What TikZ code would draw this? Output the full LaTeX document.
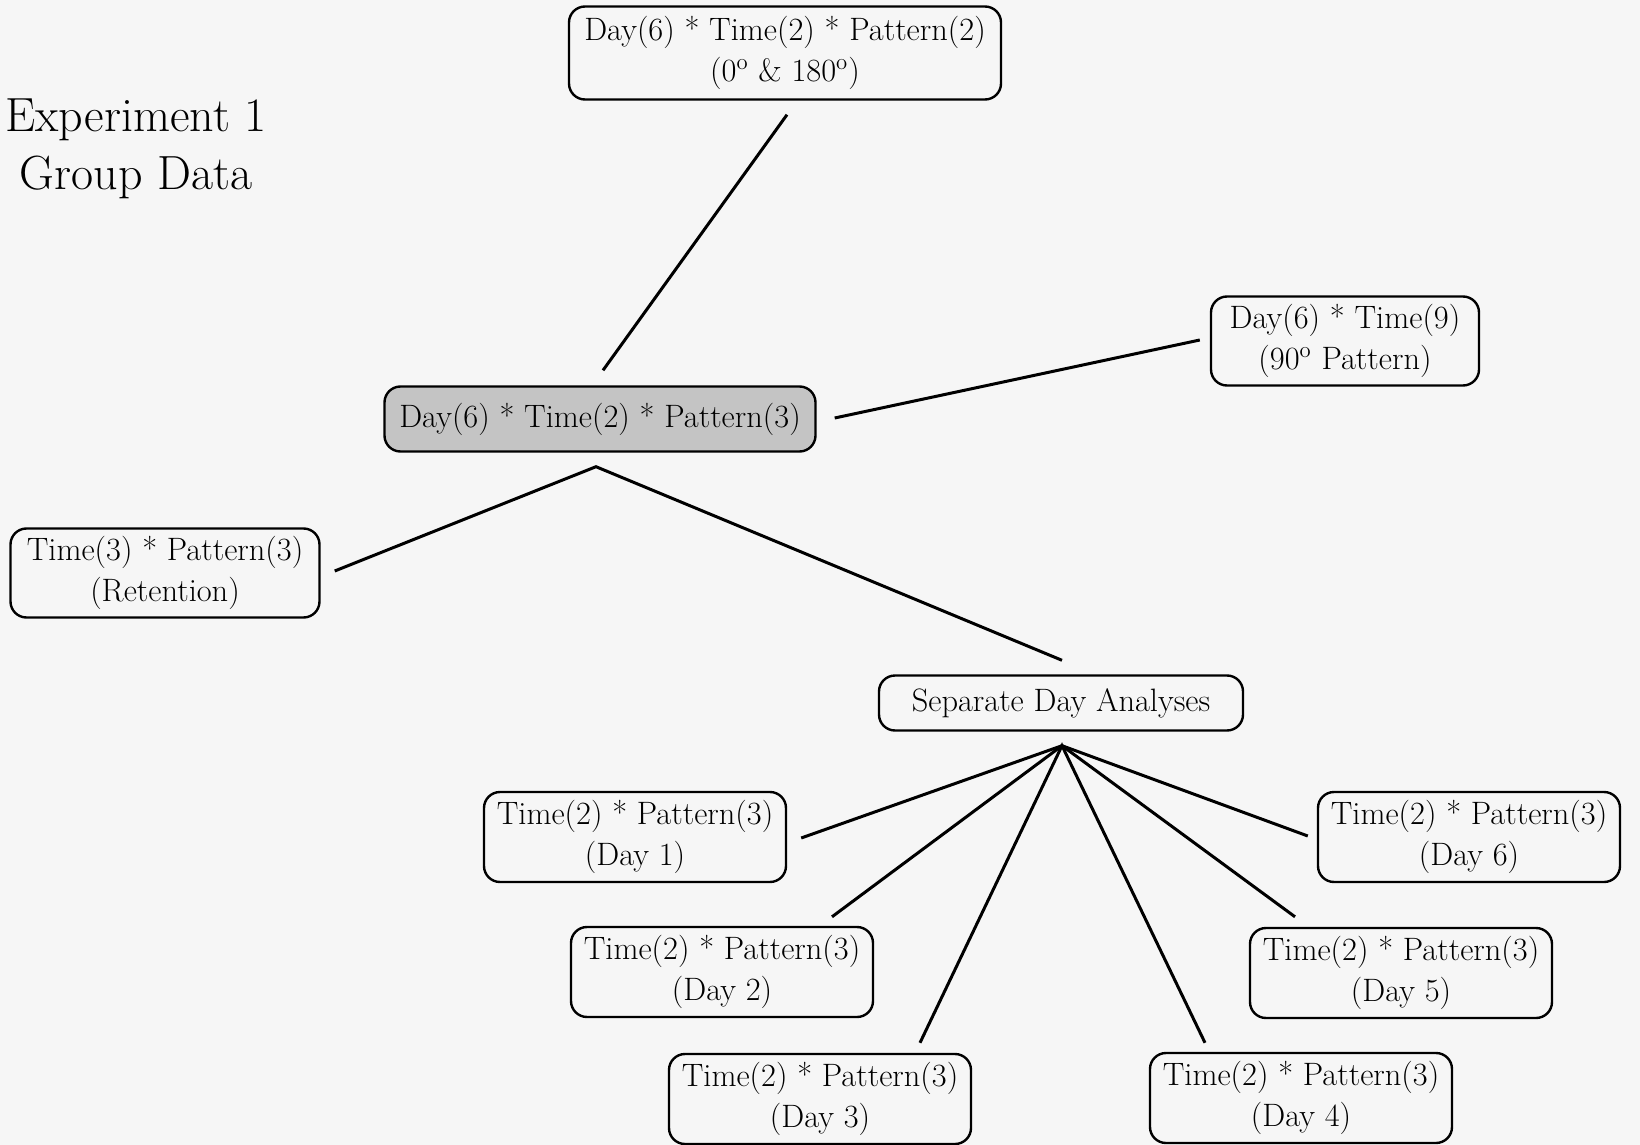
\documentclass[tikz,border=0pt]{standalone}
\usetikzlibrary{calc}
\definecolor{bgc}{RGB}{246,246,246}
\definecolor{shade}{RGB}{196,196,196}
\begin{document}
\begin{tikzpicture}[x=0.5pt,y=-0.5pt,
  box/.style={draw, line width=1.2pt, rounded corners=8pt, align=center, inner sep=0pt,
    font=\fontsize{16.2}{20.5}\selectfont},
  daybox/.style={box, minimum width=151pt, minimum height=45pt},
  conn/.style={line width=1.5pt}]
\fill[bgc] (0,0) rectangle (1640,1145);
\useasboundingbox (0,0) rectangle (1640,1145);

\node[font=\fontsize{24}{29}\selectfont, align=center] (title) at (136,149) {Experiment 1\\Group Data};

\node[box, minimum width=216pt, minimum height=46.5pt] (top) at (785,53)
  {Day(6) * Time(2) * Pattern(2)\\(0\textsuperscript{o} \& 180\textsuperscript{o})};
\node[box, fill=shade, minimum width=215.5pt, minimum height=32.5pt] (central) at (600,419)
  {Day(6) * Time(2) * Pattern(3)};
\node[box, minimum width=134pt, minimum height=44.5pt] (right) at (1345,341)
  {Day(6) * Time(9)\\(90\textsuperscript{o} Pattern)};
\node[box, minimum width=154.5pt, minimum height=44.5pt] (ret) at (165,573)
  {Time(3) * Pattern(3)\\(Retention)};
\node[box, minimum width=182pt, minimum height=27.5pt] (sep) at (1061,703)
  {Separate Day Analyses};

\node[daybox] (d1) at (635,837) {Time(2) * Pattern(3)\\(Day 1)};
\node[daybox] (d2) at (722,972) {Time(2) * Pattern(3)\\(Day 2)};
\node[daybox] (d3) at (820,1099) {Time(2) * Pattern(3)\\(Day 3)};
\node[daybox] (d4) at (1301,1098) {Time(2) * Pattern(3)\\(Day 4)};
\node[daybox] (d5) at (1401,973) {Time(2) * Pattern(3)\\(Day 5)};
\node[daybox] (d6) at (1469,837) {Time(2) * Pattern(3)\\(Day 6)};

\coordinate (capex) at ($(central.south)+(-4,14)$);
\coordinate (sapex) at ($(sep.south)+(1,14)$);

\draw[conn] ($(top.south)+(2,14)$) -- ($(central.north)+(3,-15)$);
\draw[conn] ($(central.east)+(18,-1)$) -- ($(right.west)+(-10,-1)$);
\draw[conn] ($(ret.east)+(14,-2)$) -- (capex) -- ($(sep.north)+(1,-14)$);
\draw[conn] ($(d1.east)+(14,1)$) -- (sapex) -- ($(d6.west)+(-9,-1)$);
\draw[conn] ($(d2.north)+(110,-9)$) -- (sapex) -- ($(d5.north)+(-106,-10)$);
\draw[conn] ($(d3.north)+(100,-10)$) -- (sapex) -- ($(d4.north)+(-96,-9)$);
\end{tikzpicture}
\end{document}
